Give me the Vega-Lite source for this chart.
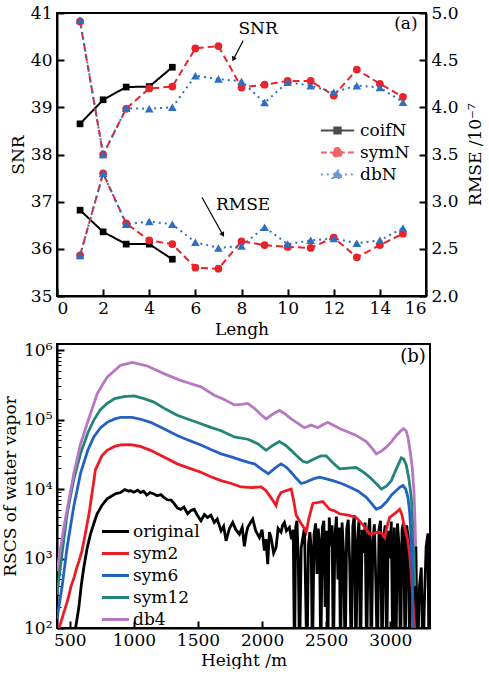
{
  "$schema": "https://vega.github.io/schema/vega-lite/v6.json",
  "background": "white",
  "padding": {"left": 0, "top": 3, "right": 0, "bottom": 0},
  "config": {
    "font": "DejaVu Serif",
    "view": {"stroke": "black", "strokeWidth": 2},
    "axis": {"domainColor": "black", "domainWidth": 2, "tickColor": "black", "tickWidth": 2, "tickSize": -7, "labelColor": "black", "labelFont": "DejaVu Serif", "labelFontSize": 17, "titleFont": "DejaVu Serif", "titleFontSize": 17, "titleFontWeight": "normal", "titleColor": "black", "grid": false, "labelPadding": 12},
    "legend": {"labelFont": "DejaVu Serif", "labelFontSize": 17, "labelColor": "black"},
    "text": {"font": "DejaVu Serif", "fontSize": 17}
  },
  "datasets": {
    "a": [
      {"series": "coifN", "len": 1, "snr": 38.65, "rmse": 2.91},
      {"series": "coifN", "len": 2, "snr": 39.16, "rmse": 2.68},
      {"series": "coifN", "len": 3, "snr": 39.43, "rmse": 2.55},
      {"series": "coifN", "len": 4, "snr": 39.44, "rmse": 2.55},
      {"series": "coifN", "len": 5, "snr": 39.85, "rmse": 2.39},
      {"series": "symN", "len": 1, "snr": 40.82, "rmse": 2.43},
      {"series": "symN", "len": 2, "snr": 38.0, "rmse": 3.3},
      {"series": "symN", "len": 3, "snr": 38.97, "rmse": 2.77},
      {"series": "symN", "len": 4, "snr": 39.4, "rmse": 2.59},
      {"series": "symN", "len": 5, "snr": 39.44, "rmse": 2.55},
      {"series": "symN", "len": 6, "snr": 40.25, "rmse": 2.3},
      {"series": "symN", "len": 7, "snr": 40.3, "rmse": 2.29},
      {"series": "symN", "len": 8, "snr": 39.42, "rmse": 2.58},
      {"series": "symN", "len": 9, "snr": 39.48, "rmse": 2.54},
      {"series": "symN", "len": 10, "snr": 39.56, "rmse": 2.52},
      {"series": "symN", "len": 11, "snr": 39.56, "rmse": 2.51},
      {"series": "symN", "len": 12, "snr": 39.25, "rmse": 2.62},
      {"series": "symN", "len": 13, "snr": 39.8, "rmse": 2.41},
      {"series": "symN", "len": 14, "snr": 39.5, "rmse": 2.54},
      {"series": "symN", "len": 15, "snr": 39.22, "rmse": 2.66},
      {"series": "dbN", "len": 1, "snr": 40.85, "rmse": 2.43},
      {"series": "dbN", "len": 2, "snr": 38.0, "rmse": 3.3},
      {"series": "dbN", "len": 3, "snr": 38.98, "rmse": 2.76},
      {"series": "dbN", "len": 4, "snr": 38.97, "rmse": 2.79},
      {"series": "dbN", "len": 5, "snr": 39.0, "rmse": 2.76},
      {"series": "dbN", "len": 6, "snr": 39.67, "rmse": 2.57},
      {"series": "dbN", "len": 7, "snr": 39.6, "rmse": 2.51},
      {"series": "dbN", "len": 8, "snr": 39.55, "rmse": 2.53},
      {"series": "dbN", "len": 9, "snr": 39.1, "rmse": 2.73},
      {"series": "dbN", "len": 10, "snr": 39.53, "rmse": 2.55},
      {"series": "dbN", "len": 11, "snr": 39.46, "rmse": 2.59},
      {"series": "dbN", "len": 12, "snr": 39.32, "rmse": 2.61},
      {"series": "dbN", "len": 13, "snr": 39.46, "rmse": 2.56},
      {"series": "dbN", "len": 14, "snr": 39.42, "rmse": 2.59},
      {"series": "dbN", "len": 15, "snr": 39.11, "rmse": 2.72}
    ],
    "anno_a": [
      {"k": "t", "len": 8.72, "snr": 40.66, "txt": "SNR"},
      {"k": "t", "len": 8.07, "snr": 36.92, "txt": "RMSE"},
      {"k": "t", "len": 15.13, "snr": 40.77, "txt": "(a)"},
      {"k": "snr", "len": 8.07, "snr": 40.41, "len2": 7.65, "snr2": 40.02},
      {"k": "rmse", "len": 6.29, "snr": 37.09, "len2": 7.19, "snr2": 36.3}
    ],
    "anno_b": [
      {"h": 3177, "v": 790000, "txt": "(b)"}
    ],
    "b": [
      {"s": "original", "h": 520, "v": 50}, {"s": "original", "h": 545, "v": 100}, {"s": "original", "h": 570, "v": 195}, {"s": "original", "h": 590, "v": 420}, {"s": "original", "h": 609, "v": 740}, {"s": "original", "h": 635, "v": 1400}, {"s": "original", "h": 661, "v": 2240}, {"s": "original", "h": 690, "v": 3300}, {"s": "original", "h": 713, "v": 4400}, {"s": "original", "h": 750, "v": 5800}, {"s": "original", "h": 791, "v": 7200}, {"s": "original", "h": 830, "v": 8000}, {"s": "original", "h": 860, "v": 8600}, {"s": "original", "h": 896, "v": 8900}, {"s": "original", "h": 930, "v": 9800}, {"s": "original", "h": 960, "v": 9300}, {"s": "original", "h": 974, "v": 9500}, {"s": "original", "h": 1000, "v": 9000}, {"s": "original", "h": 1030, "v": 9600}, {"s": "original", "h": 1052, "v": 8900}, {"s": "original", "h": 1075, "v": 9300}, {"s": "original", "h": 1100, "v": 8200}, {"s": "original", "h": 1125, "v": 8900}, {"s": "original", "h": 1156, "v": 8500}, {"s": "original", "h": 1180, "v": 8000}, {"s": "original", "h": 1210, "v": 8300}, {"s": "original", "h": 1234, "v": 7600}, {"s": "original", "h": 1260, "v": 7000}, {"s": "original", "h": 1290, "v": 6900}, {"s": "original", "h": 1313, "v": 6200}, {"s": "original", "h": 1340, "v": 5300}, {"s": "original", "h": 1365, "v": 5100}, {"s": "original", "h": 1390, "v": 5500}, {"s": "original", "h": 1419, "v": 4400}, {"s": "original", "h": 1445, "v": 4900}, {"s": "original", "h": 1471, "v": 5100}, {"s": "original", "h": 1495, "v": 4200}, {"s": "original", "h": 1523, "v": 3500}, {"s": "original", "h": 1550, "v": 4300}, {"s": "original", "h": 1575, "v": 3900}, {"s": "original", "h": 1600, "v": 4200}, {"s": "original", "h": 1627, "v": 3300}, {"s": "original", "h": 1650, "v": 3700}, {"s": "original", "h": 1680, "v": 2500}, {"s": "original", "h": 1700, "v": 2900}, {"s": "original", "h": 1719, "v": 1800}, {"s": "original", "h": 1745, "v": 2700}, {"s": "original", "h": 1771, "v": 3300}, {"s": "original", "h": 1795, "v": 2600}, {"s": "original", "h": 1823, "v": 2240}, {"s": "original", "h": 1845, "v": 2800}, {"s": "original", "h": 1862, "v": 1500}, {"s": "original", "h": 1875, "v": 2200}, {"s": "original", "h": 1888, "v": 2800}, {"s": "original", "h": 1910, "v": 3300}, {"s": "original", "h": 1927, "v": 3700}, {"s": "original", "h": 1950, "v": 2500}, {"s": "original", "h": 1979, "v": 2000}, {"s": "original", "h": 2000, "v": 2600}, {"s": "original", "h": 2018, "v": 1300}, {"s": "original", "h": 2030, "v": 1900}, {"s": "original", "h": 2044, "v": 830}, {"s": "original", "h": 2057, "v": 2400}, {"s": "original", "h": 2070, "v": 2000}, {"s": "original", "h": 2090, "v": 1200}, {"s": "original", "h": 2109, "v": 1450}, {"s": "original", "h": 2125, "v": 2700}, {"s": "original", "h": 2148, "v": 2400}, {"s": "original", "h": 2160, "v": 3000}, {"s": "original", "h": 2174, "v": 3300}, {"s": "original", "h": 2190, "v": 2500}, {"s": "original", "h": 2213, "v": 2800}, {"s": "original", "h": 2230, "v": 1900}, {"s": "original", "h": 2243, "v": 2600}, {"s": "original", "h": 2253, "v": 30}, {"s": "original", "h": 2262, "v": 2800}, {"s": "original", "h": 2272, "v": 3500}, {"s": "original", "h": 2283, "v": 900}, {"s": "original", "h": 2292, "v": 30}, {"s": "original", "h": 2305, "v": 1400}, {"s": "original", "h": 2318, "v": 2000}, {"s": "original", "h": 2331, "v": 2800}, {"s": "original", "h": 2340, "v": 300}, {"s": "original", "h": 2350, "v": 30}, {"s": "original", "h": 2362, "v": 1600}, {"s": "original", "h": 2373, "v": 2400}, {"s": "original", "h": 2383, "v": 1450}, {"s": "original", "h": 2393, "v": 30}, {"s": "original", "h": 2405, "v": 2200}, {"s": "original", "h": 2418, "v": 3200}, {"s": "original", "h": 2428, "v": 600}, {"s": "original", "h": 2438, "v": 2700}, {"s": "original", "h": 2448, "v": 1800}, {"s": "original", "h": 2458, "v": 30}, {"s": "original", "h": 2470, "v": 2800}, {"s": "original", "h": 2482, "v": 3500}, {"s": "original", "h": 2492, "v": 200}, {"s": "original", "h": 2502, "v": 2500}, {"s": "original", "h": 2512, "v": 30}, {"s": "original", "h": 2524, "v": 3900}, {"s": "original", "h": 2536, "v": 1500}, {"s": "original", "h": 2546, "v": 3000}, {"s": "original", "h": 2556, "v": 30}, {"s": "original", "h": 2568, "v": 2200}, {"s": "original", "h": 2580, "v": 4000}, {"s": "original", "h": 2592, "v": 500}, {"s": "original", "h": 2602, "v": 2800}, {"s": "original", "h": 2612, "v": 30}, {"s": "original", "h": 2624, "v": 3300}, {"s": "original", "h": 2636, "v": 1200}, {"s": "original", "h": 2648, "v": 30}, {"s": "original", "h": 2660, "v": 2600}, {"s": "original", "h": 2672, "v": 3600}, {"s": "original", "h": 2684, "v": 800}, {"s": "original", "h": 2696, "v": 30}, {"s": "original", "h": 2708, "v": 2900}, {"s": "original", "h": 2720, "v": 4200}, {"s": "original", "h": 2732, "v": 30}, {"s": "original", "h": 2744, "v": 1900}, {"s": "original", "h": 2756, "v": 3500}, {"s": "original", "h": 2768, "v": 30}, {"s": "original", "h": 2780, "v": 2600}, {"s": "original", "h": 2792, "v": 1200}, {"s": "original", "h": 2804, "v": 3300}, {"s": "original", "h": 2816, "v": 30}, {"s": "original", "h": 2828, "v": 2400}, {"s": "original", "h": 2840, "v": 3800}, {"s": "original", "h": 2852, "v": 30}, {"s": "original", "h": 2864, "v": 1800}, {"s": "original", "h": 2876, "v": 3100}, {"s": "original", "h": 2888, "v": 400}, {"s": "original", "h": 2900, "v": 30}, {"s": "original", "h": 2912, "v": 2600}, {"s": "original", "h": 2924, "v": 3500}, {"s": "original", "h": 2936, "v": 30}, {"s": "original", "h": 2948, "v": 2000}, {"s": "original", "h": 2960, "v": 3000}, {"s": "original", "h": 2972, "v": 30}, {"s": "original", "h": 2984, "v": 2500}, {"s": "original", "h": 2996, "v": 1000}, {"s": "original", "h": 3008, "v": 3400}, {"s": "original", "h": 3020, "v": 30}, {"s": "original", "h": 3032, "v": 2800}, {"s": "original", "h": 3044, "v": 30}, {"s": "original", "h": 3056, "v": 3200}, {"s": "original", "h": 3068, "v": 1600}, {"s": "original", "h": 3080, "v": 30}, {"s": "original", "h": 3092, "v": 2600}, {"s": "original", "h": 3104, "v": 3300}, {"s": "original", "h": 3116, "v": 30}, {"s": "original", "h": 3128, "v": 3000}, {"s": "original", "h": 3140, "v": 2000}, {"s": "original", "h": 3152, "v": 30}, {"s": "original", "h": 3164, "v": 2400}, {"s": "original", "h": 3176, "v": 3000}, {"s": "original", "h": 3188, "v": 30}, {"s": "original", "h": 3200, "v": 1500}, {"s": "original", "h": 3212, "v": 30}, {"s": "original", "h": 3228, "v": 400}, {"s": "original", "h": 3242, "v": 740}, {"s": "original", "h": 3255, "v": 30}, {"s": "original", "h": 3268, "v": 300}, {"s": "original", "h": 3280, "v": 1500}, {"s": "original", "h": 3294, "v": 2300}, {"s": "original", "h": 3302, "v": 30}, {"s": "original", "h": 3308, "v": 1800},
      {"s": "sym2", "h": 410, "v": 90}, {"s": "sym2", "h": 450, "v": 160}, {"s": "sym2", "h": 482, "v": 245}, {"s": "sym2", "h": 510, "v": 400}, {"s": "sym2", "h": 534, "v": 540}, {"s": "sym2", "h": 555, "v": 750}, {"s": "sym2", "h": 573, "v": 930}, {"s": "sym2", "h": 595, "v": 1300}, {"s": "sym2", "h": 620, "v": 2240}, {"s": "sym2", "h": 651, "v": 4500}, {"s": "sym2", "h": 700, "v": 19000}, {"s": "sym2", "h": 750, "v": 30000}, {"s": "sym2", "h": 791, "v": 36000}, {"s": "sym2", "h": 850, "v": 41000}, {"s": "sym2", "h": 896, "v": 43000}, {"s": "sym2", "h": 974, "v": 43500}, {"s": "sym2", "h": 1050, "v": 41000}, {"s": "sym2", "h": 1130, "v": 36000}, {"s": "sym2", "h": 1230, "v": 29000}, {"s": "sym2", "h": 1338, "v": 23000}, {"s": "sym2", "h": 1430, "v": 20000}, {"s": "sym2", "h": 1523, "v": 17400}, {"s": "sym2", "h": 1600, "v": 15000}, {"s": "sym2", "h": 1680, "v": 13200}, {"s": "sym2", "h": 1760, "v": 12000}, {"s": "sym2", "h": 1836, "v": 10700}, {"s": "sym2", "h": 1920, "v": 10500}, {"s": "sym2", "h": 1992, "v": 10700}, {"s": "sym2", "h": 2030, "v": 9500}, {"s": "sym2", "h": 2057, "v": 8100}, {"s": "sym2", "h": 2085, "v": 6800}, {"s": "sym2", "h": 2109, "v": 5800}, {"s": "sym2", "h": 2125, "v": 7500}, {"s": "sym2", "h": 2148, "v": 8900}, {"s": "sym2", "h": 2190, "v": 9500}, {"s": "sym2", "h": 2227, "v": 10000}, {"s": "sym2", "h": 2245, "v": 7000}, {"s": "sym2", "h": 2266, "v": 4200}, {"s": "sym2", "h": 2300, "v": 3300}, {"s": "sym2", "h": 2330, "v": 2700}, {"s": "sym2", "h": 2344, "v": 2400}, {"s": "sym2", "h": 2365, "v": 3800}, {"s": "sym2", "h": 2396, "v": 6200}, {"s": "sym2", "h": 2440, "v": 6400}, {"s": "sym2", "h": 2474, "v": 6600}, {"s": "sym2", "h": 2500, "v": 5800}, {"s": "sym2", "h": 2526, "v": 5100}, {"s": "sym2", "h": 2560, "v": 4900}, {"s": "sym2", "h": 2604, "v": 4400}, {"s": "sym2", "h": 2670, "v": 4200}, {"s": "sym2", "h": 2734, "v": 3900}, {"s": "sym2", "h": 2790, "v": 3000}, {"s": "sym2", "h": 2839, "v": 2240}, {"s": "sym2", "h": 2870, "v": 2300}, {"s": "sym2", "h": 2904, "v": 2400}, {"s": "sym2", "h": 2935, "v": 2300}, {"s": "sym2", "h": 2956, "v": 2000}, {"s": "sym2", "h": 2975, "v": 2900}, {"s": "sym2", "h": 2995, "v": 3900}, {"s": "sym2", "h": 3040, "v": 4500}, {"s": "sym2", "h": 3073, "v": 5100}, {"s": "sym2", "h": 3090, "v": 4300}, {"s": "sym2", "h": 3112, "v": 2800}, {"s": "sym2", "h": 3135, "v": 1900}, {"s": "sym2", "h": 3151, "v": 1150}, {"s": "sym2", "h": 3170, "v": 400}, {"s": "sym2", "h": 3190, "v": 100}, {"s": "sym2", "h": 3195, "v": 40},
      {"s": "sym12", "h": 400, "v": 310}, {"s": "sym12", "h": 440, "v": 1200}, {"s": "sym12", "h": 479, "v": 4400}, {"s": "sym12", "h": 530, "v": 13500}, {"s": "sym12", "h": 583, "v": 32000}, {"s": "sym12", "h": 640, "v": 64000}, {"s": "sym12", "h": 687, "v": 98000}, {"s": "sym12", "h": 740, "v": 140000}, {"s": "sym12", "h": 791, "v": 170000}, {"s": "sym12", "h": 850, "v": 200000}, {"s": "sym12", "h": 922, "v": 214000}, {"s": "sym12", "h": 1000, "v": 219000}, {"s": "sym12", "h": 1080, "v": 200000}, {"s": "sym12", "h": 1156, "v": 178000}, {"s": "sym12", "h": 1250, "v": 140000}, {"s": "sym12", "h": 1338, "v": 115000}, {"s": "sym12", "h": 1430, "v": 100000}, {"s": "sym12", "h": 1523, "v": 87000}, {"s": "sym12", "h": 1600, "v": 77000}, {"s": "sym12", "h": 1680, "v": 69000}, {"s": "sym12", "h": 1784, "v": 56000}, {"s": "sym12", "h": 1888, "v": 52000}, {"s": "sym12", "h": 1966, "v": 45000}, {"s": "sym12", "h": 2031, "v": 36000}, {"s": "sym12", "h": 2080, "v": 42000}, {"s": "sym12", "h": 2135, "v": 48000}, {"s": "sym12", "h": 2180, "v": 43000}, {"s": "sym12", "h": 2227, "v": 36000}, {"s": "sym12", "h": 2270, "v": 30000}, {"s": "sym12", "h": 2318, "v": 25000}, {"s": "sym12", "h": 2350, "v": 24000}, {"s": "sym12", "h": 2422, "v": 28000}, {"s": "sym12", "h": 2460, "v": 30000}, {"s": "sym12", "h": 2500, "v": 30000}, {"s": "sym12", "h": 2550, "v": 24000}, {"s": "sym12", "h": 2604, "v": 19500}, {"s": "sym12", "h": 2670, "v": 20000}, {"s": "sym12", "h": 2734, "v": 20400}, {"s": "sym12", "h": 2790, "v": 17500}, {"s": "sym12", "h": 2839, "v": 14800}, {"s": "sym12", "h": 2890, "v": 12000}, {"s": "sym12", "h": 2930, "v": 10000}, {"s": "sym12", "h": 2970, "v": 11000}, {"s": "sym12", "h": 3008, "v": 13200}, {"s": "sym12", "h": 3050, "v": 20000}, {"s": "sym12", "h": 3086, "v": 28000}, {"s": "sym12", "h": 3105, "v": 27000}, {"s": "sym12", "h": 3125, "v": 22000}, {"s": "sym12", "h": 3145, "v": 14000}, {"s": "sym12", "h": 3164, "v": 7600}, {"s": "sym12", "h": 3182, "v": 1800}, {"s": "sym12", "h": 3192, "v": 400},
      {"s": "sym6", "h": 400, "v": 135}, {"s": "sym6", "h": 440, "v": 400}, {"s": "sym6", "h": 479, "v": 1450}, {"s": "sym6", "h": 530, "v": 5500}, {"s": "sym6", "h": 583, "v": 16600}, {"s": "sym6", "h": 640, "v": 36000}, {"s": "sym6", "h": 687, "v": 56000}, {"s": "sym6", "h": 740, "v": 76000}, {"s": "sym6", "h": 791, "v": 91000}, {"s": "sym6", "h": 850, "v": 102000}, {"s": "sym6", "h": 896, "v": 107000}, {"s": "sym6", "h": 987, "v": 107000}, {"s": "sym6", "h": 1060, "v": 100000}, {"s": "sym6", "h": 1130, "v": 91000}, {"s": "sym6", "h": 1230, "v": 74000}, {"s": "sym6", "h": 1338, "v": 59000}, {"s": "sym6", "h": 1430, "v": 50000}, {"s": "sym6", "h": 1523, "v": 43000}, {"s": "sym6", "h": 1600, "v": 37000}, {"s": "sym6", "h": 1680, "v": 32000}, {"s": "sym6", "h": 1760, "v": 29000}, {"s": "sym6", "h": 1836, "v": 26000}, {"s": "sym6", "h": 1900, "v": 24000}, {"s": "sym6", "h": 1940, "v": 23000}, {"s": "sym6", "h": 2000, "v": 19000}, {"s": "sym6", "h": 2049, "v": 16600}, {"s": "sym6", "h": 2100, "v": 20000}, {"s": "sym6", "h": 2148, "v": 23000}, {"s": "sym6", "h": 2190, "v": 20500}, {"s": "sym6", "h": 2227, "v": 17400}, {"s": "sym6", "h": 2270, "v": 14000}, {"s": "sym6", "h": 2305, "v": 12000}, {"s": "sym6", "h": 2344, "v": 12600}, {"s": "sym6", "h": 2400, "v": 14000}, {"s": "sym6", "h": 2448, "v": 14800}, {"s": "sym6", "h": 2500, "v": 14000}, {"s": "sym6", "h": 2552, "v": 13200}, {"s": "sym6", "h": 2620, "v": 12000}, {"s": "sym6", "h": 2682, "v": 10700}, {"s": "sym6", "h": 2750, "v": 9300}, {"s": "sym6", "h": 2813, "v": 7600}, {"s": "sym6", "h": 2860, "v": 6000}, {"s": "sym6", "h": 2891, "v": 5100}, {"s": "sym6", "h": 2930, "v": 5500}, {"s": "sym6", "h": 2969, "v": 6500}, {"s": "sym6", "h": 3010, "v": 8200}, {"s": "sym6", "h": 3047, "v": 9500}, {"s": "sym6", "h": 3080, "v": 10800}, {"s": "sym6", "h": 3099, "v": 11200}, {"s": "sym6", "h": 3120, "v": 10000}, {"s": "sym6", "h": 3138, "v": 7600}, {"s": "sym6", "h": 3152, "v": 4500}, {"s": "sym6", "h": 3164, "v": 1800}, {"s": "sym6", "h": 3172, "v": 500}, {"s": "sym6", "h": 3177, "v": 100}, {"s": "sym6", "h": 3180, "v": 30},
      {"s": "db4", "h": 400, "v": 660}, {"s": "db4", "h": 453, "v": 2800}, {"s": "db4", "h": 531, "v": 16600}, {"s": "db4", "h": 580, "v": 42000}, {"s": "db4", "h": 635, "v": 87000}, {"s": "db4", "h": 713, "v": 234000}, {"s": "db4", "h": 791, "v": 407000}, {"s": "db4", "h": 896, "v": 603000}, {"s": "db4", "h": 987, "v": 661000}, {"s": "db4", "h": 1104, "v": 589000}, {"s": "db4", "h": 1234, "v": 457000}, {"s": "db4", "h": 1352, "v": 372000}, {"s": "db4", "h": 1440, "v": 330000}, {"s": "db4", "h": 1523, "v": 295000}, {"s": "db4", "h": 1627, "v": 224000}, {"s": "db4", "h": 1700, "v": 195000}, {"s": "db4", "h": 1784, "v": 162000}, {"s": "db4", "h": 1840, "v": 165000}, {"s": "db4", "h": 1888, "v": 170000}, {"s": "db4", "h": 1940, "v": 145000}, {"s": "db4", "h": 1990, "v": 118000}, {"s": "db4", "h": 2031, "v": 102000}, {"s": "db4", "h": 2085, "v": 120000}, {"s": "db4", "h": 2135, "v": 135000}, {"s": "db4", "h": 2180, "v": 120000}, {"s": "db4", "h": 2227, "v": 102000}, {"s": "db4", "h": 2280, "v": 88000}, {"s": "db4", "h": 2330, "v": 76000}, {"s": "db4", "h": 2383, "v": 83000}, {"s": "db4", "h": 2435, "v": 76000}, {"s": "db4", "h": 2475, "v": 84000}, {"s": "db4", "h": 2513, "v": 91000}, {"s": "db4", "h": 2560, "v": 82000}, {"s": "db4", "h": 2604, "v": 74000}, {"s": "db4", "h": 2670, "v": 66000}, {"s": "db4", "h": 2734, "v": 59000}, {"s": "db4", "h": 2813, "v": 48000}, {"s": "db4", "h": 2860, "v": 38000}, {"s": "db4", "h": 2891, "v": 32000}, {"s": "db4", "h": 2930, "v": 35000}, {"s": "db4", "h": 2969, "v": 40000}, {"s": "db4", "h": 3010, "v": 48000}, {"s": "db4", "h": 3047, "v": 59000}, {"s": "db4", "h": 3080, "v": 68000}, {"s": "db4", "h": 3104, "v": 74000}, {"s": "db4", "h": 3125, "v": 68000}, {"s": "db4", "h": 3138, "v": 56000}, {"s": "db4", "h": 3155, "v": 35000}, {"s": "db4", "h": 3172, "v": 20000}, {"s": "db4", "h": 3185, "v": 9000}, {"s": "db4", "h": 3193, "v": 3500}, {"s": "db4", "h": 3198, "v": 1500}
    ]
  },
  "spacing": 2,
  "resolve": {"scale": {"color": "independent", "fill": "independent", "stroke": "independent", "shape": "independent", "size": "independent", "strokeDash": "independent"}, "legend": {"color": "independent", "fill": "independent", "stroke": "independent"}},
  "vconcat": [
    {
      "width": 369,
      "height": 283,
      "data": {"name": "a"},
      "encoding": {
        "x": {"field": "len", "type": "quantitative", "scale": {"domain": [0, 16], "nice": false}, "axis": {"values": [0, 2, 4, 6, 8, 10, 12, 14, 16], "title": "Lengh", "titlePadding": 5, "labelPadding": 11}}
      },
      "layer": [
        {
          "layer": [
            {
              "mark": {"type": "line", "strokeWidth": 2},
              "encoding": {
                "y": {"field": "snr", "type": "quantitative", "scale": {"domain": [35, 41], "nice": false, "zero": false}, "axis": {"values": [35, 36, 37, 38, 39, 40, 41], "title": "SNR", "orient": "left", "titlePadding": 3}},
                "color": {"field": "series", "type": "nominal", "scale": {"domain": ["coifN", "symN", "dbN"], "range": ["#000000", "#e8232a", "#2d6fc0"]}, "legend": null},
                "strokeDash": {"field": "series", "type": "nominal", "scale": {"domain": ["coifN", "symN", "dbN"], "range": [[1, 0], [7, 4], [2, 4]]}, "legend": null}
              }
            },
            {
              "mark": {"type": "point", "filled": true, "opacity": 1},
              "encoding": {
                "y": {"field": "snr", "type": "quantitative"},
                "color": {"field": "series", "type": "nominal", "legend": null},
                "shape": {"field": "series", "type": "nominal", "scale": {"domain": ["coifN", "symN", "dbN"], "range": ["square", "circle", "triangle-up"]}, "legend": null},
                "size": {"field": "series", "type": "nominal", "scale": {"domain": ["coifN", "symN", "dbN"], "range": [45, 75, 70]}, "legend": null}
              }
            },
            {
              "data": {"name": "anno_a"},
              "transform": [{"filter": "datum.k === 't'"}],
              "mark": {"type": "text", "fontSize": 17, "font": "DejaVu Serif", "color": "black"},
              "encoding": {"y": {"field": "snr", "type": "quantitative"}, "text": {"field": "txt"}}
            },
            {
              "data": {"name": "anno_a"},
              "transform": [{"filter": "datum.k !== 't'"}],
              "mark": {"type": "rule", "color": "black", "strokeWidth": 1.2},
              "encoding": {"y": {"field": "snr", "type": "quantitative"}, "x2": {"field": "len2"}, "y2": {"field": "snr2"}}
            },
            {
              "data": {"name": "anno_a"},
              "transform": [{"filter": "datum.k === 'snr'"}],
              "mark": {"type": "point", "shape": "triangle-up", "filled": true, "color": "black", "opacity": 1, "size": 30, "angle": 207},
              "encoding": {"x": {"field": "len2", "type": "quantitative"}, "y": {"field": "snr2", "type": "quantitative"}}
            },
            {
              "data": {"name": "anno_a"},
              "transform": [{"filter": "datum.k === 'rmse'"}],
              "mark": {"type": "point", "shape": "triangle-up", "filled": true, "color": "black", "opacity": 1, "size": 30, "angle": 151},
              "encoding": {"x": {"field": "len2", "type": "quantitative"}, "y": {"field": "snr2", "type": "quantitative"}}
            }
          ]
        },
        {
          "layer": [
            {
              "mark": {"type": "line", "strokeWidth": 2},
              "encoding": {
                "y": {"field": "rmse", "type": "quantitative", "scale": {"domain": [2, 5], "nice": false, "zero": false}, "axis": {"values": [2, 2.5, 3, 3.5, 4, 4.5, 5], "format": ".1f", "title": "RMSE /10⁻⁷", "orient": "right", "titleAngle": -90, "titleBaseline": "middle", "titleAlign": "center", "titleX": 49, "titleY": 141}},
                "color": {"field": "series", "type": "nominal", "scale": {"domain": ["coifN", "symN", "dbN"], "range": ["#000000", "#e8232a", "#2d6fc0"]}, "legend": null},
                "strokeDash": {"field": "series", "type": "nominal", "scale": {"domain": ["coifN", "symN", "dbN"], "range": [[1, 0], [7, 4], [2, 4]]}, "legend": null}
              }
            },
            {
              "mark": {"type": "point", "filled": true, "opacity": 1},
              "encoding": {
                "y": {"field": "rmse", "type": "quantitative"},
                "color": {"field": "series", "type": "nominal", "legend": null},
                "shape": {"field": "series", "type": "nominal", "scale": {"domain": ["coifN", "symN", "dbN"], "range": ["square", "circle", "triangle-up"]}, "legend": null},
                "size": {"field": "series", "type": "nominal", "scale": {"domain": ["coifN", "symN", "dbN"], "range": [45, 75, 70]}, "legend": null}
              }
            }
          ]
        },
        {
          "mark": {"type": "point", "filled": true, "clip": true},
          "encoding": {
            "y": {"field": "snr", "type": "quantitative", "scale": {"domain": [100, 101], "nice": false, "zero": false}, "axis": null},
            "color": {"field": "series", "type": "nominal", "scale": {"domain": ["coifN", "symN", "dbN"], "range": ["#000000", "#e8232a", "#2d6fc0"]}, "legend": {
              "title": null, "orient": "none", "legendX": 272, "legendY": 109, "padding": 0, "offset": 0,
              "symbolSize": 108, "symbolStrokeWidth": 2, "labelOffset": 14, "rowPadding": 4, "labelFontSize": 17
            }},
            "stroke": {"field": "series", "type": "nominal", "scale": {"domain": ["coifN", "symN", "dbN"], "range": ["#000000", "#e8232a", "#2d6fc0"]}},
            "shape": {"field": "series", "type": "nominal", "scale": {"domain": ["coifN", "symN", "dbN"], "range": ["M-3.2,0H3.2M-0.6,-0.6H0.6V0.6H-0.6Z", "M-3.2,0H3.2M-0.85,0A0.85,0.85 0 1,0 0.85,0A0.85,0.85 0 1,0 -0.85,0Z", "M-3.2,0H3.2M0,-0.95L0.95,0.65H-0.95Z"]}},
            "strokeDash": {"field": "series", "type": "nominal", "scale": {"domain": ["coifN", "symN", "dbN"], "range": [[1, 0], [6, 3], [2, 4]]}}
          }
        }
      ],
      "resolve": {"scale": {"y": "independent", "color": "independent", "shape": "independent", "strokeDash": "independent", "size": "independent", "fill": "independent", "stroke": "independent"}}
    },
    {
      "width": 373,
      "height": 284,
      "layer": [
        {
          "data": {"name": "b"},
          "mark": {"type": "line", "strokeWidth": 2.8, "clip": true},
          "encoding": {
            "x": {"field": "h", "type": "quantitative", "scale": {"domain": [400, 3310], "nice": false, "zero": false}, "axis": {"values": [500, 1000, 1500, 2000, 2500, 3000], "format": "d", "title": "Height /m", "titlePadding": 4, "labelPadding": 11}},
            "y": {"field": "v", "type": "quantitative", "scale": {"type": "log", "domain": [100, 1220000], "nice": false}, "axis": {"values": [100, 1000, 10000, 100000, 1000000], "labelExpr": "datum.value >= 999999 ? '10⁶' : datum.value >= 99999 ? '10⁵' : datum.value >= 9999 ? '10⁴' : datum.value >= 999 ? '10³' : '10²'", "title": "RSCS of water vapor", "orient": "left", "titlePadding": 4}},
            "color": {"field": "s", "type": "nominal", "scale": {"domain": ["original", "sym2", "sym6", "sym12", "db4"], "range": ["#000000", "#ec1c24", "#2461c0", "#22847a", "#b877c4"]}, "legend": {
              "title": null, "orient": "none", "legendX": 50, "legendY": 179, "padding": 0, "offset": 0,
              "symbolType": "M-2.5,0H2.5", "symbolSize": 117, "symbolStrokeWidth": 3, "labelOffset": 9, "rowPadding": 4, "labelFontSize": 17
            }}
          }
        },
        {
          "data": {"name": "anno_b"},
          "mark": {"type": "text", "fontSize": 18, "font": "DejaVu Serif", "color": "black"},
          "encoding": {
            "x": {"field": "h", "type": "quantitative"},
            "y": {"field": "v", "type": "quantitative", "axis": {"orient": "left", "values": [200, 300, 400, 500, 600, 700, 800, 900, 2000, 3000, 4000, 5000, 6000, 7000, 8000, 9000, 20000, 30000, 40000, 50000, 60000, 70000, 80000, 90000, 200000, 300000, 400000, 500000, 600000, 700000, 800000, 900000], "labels": false, "domain": false, "tickSize": -4, "tickWidth": 1, "title": null}},
            "text": {"field": "txt"}
          }
        }
      ],
      "resolve": {"axis": {"y": "independent"}}
    }
  ]
}
